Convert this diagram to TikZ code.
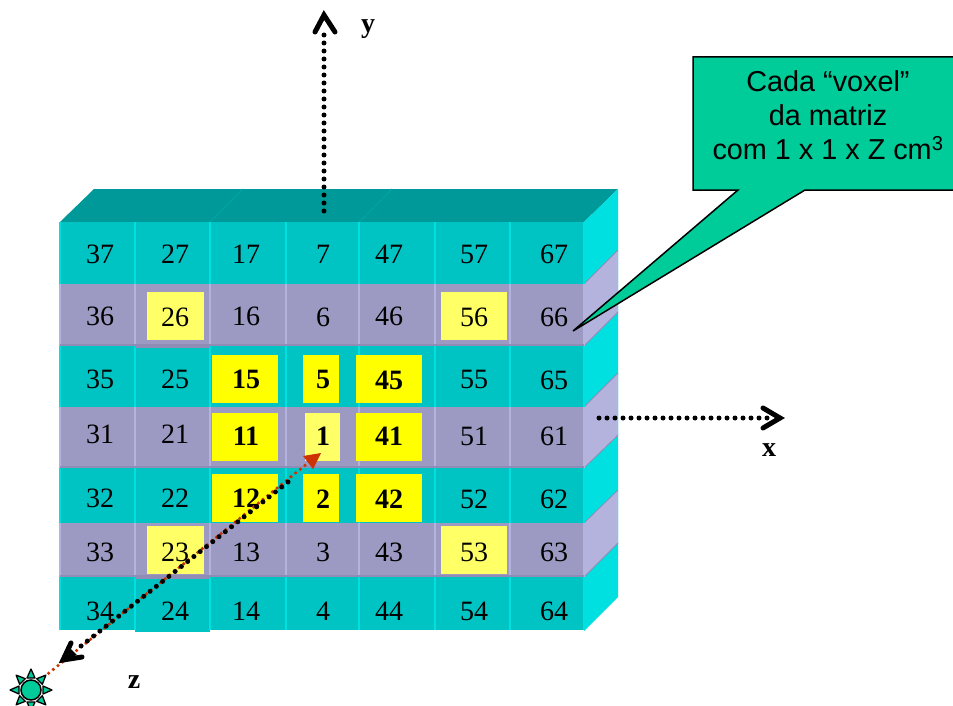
\documentclass[tikz,border=0pt]{standalone}
\usepackage{fontspec}
\setmainfont{Liberation Serif}
\newfontfamily\calloutfont{Liberation Sans}
\definecolor{tealface}{HTML}{00C4C4}
\definecolor{tealedge}{HTML}{00E0E0}
\definecolor{tealtop}{HTML}{009999}
\definecolor{tealseam}{HTML}{00A6A6}
\definecolor{lavface}{HTML}{9C99C2}
\definecolor{lavedge}{HTML}{B3B3DE}
\definecolor{lavshade}{HTML}{8F8CB5}
\definecolor{calloutgreen}{HTML}{00CC99}
\definecolor{brightyellow}{HTML}{FFFF00}
\definecolor{paleyellow}{HTML}{FFFF66}
\definecolor{zred}{HTML}{CC3300}
\tikzset{
  celltext/.style={font=\fontsize{28}{30}\selectfont,inner sep=0pt,text=black},
  boldtext/.style={font=\fontsize{28}{30}\selectfont\bfseries,inner sep=0pt,text=black},
  axislabel/.style={font=\fontsize{28}{30}\selectfont\bfseries,inner sep=0pt,text=black,anchor=base},
  calloutline/.style={font=\calloutfont\fontsize{28.8}{30}\selectfont,inner sep=0pt,anchor=base,text=black},
  axisdots/.style={line width=5pt,line cap=round,dash pattern=on 0pt off 8pt},
  reddots/.style={line width=3.6pt,line cap=round,dash pattern=on 0pt off 6pt,zred},
  vee/.style={line width=5pt,line cap=round,line join=miter,black},
}
\begin{document}
\begin{tikzpicture}[x=1pt,y=-1pt]
\useasboundingbox (0,0) rectangle (953,706);
% top face
\fill[tealtop] (60,222) -- (94,189) -- (618,189) -- (584,222) -- cycle;
\draw[tealseam,line width=.8pt] (210,222) -- (243,189);
\draw[tealseam,line width=.8pt] (359,222) -- (392,189);
% side bands
\fill[tealedge] (584,222) -- (618,189) -- (618,597) -- (584,631) -- cycle;
\foreach \la/\ra/\lb/\rb in {284/250/346/312,407/373/468/435,523/490/577/543}{
  \fill[lavedge] (584,\la) -- (618,\ra) -- (618,\rb) -- (584,\lb) -- cycle;
  \draw[lavshade,line width=.8pt] (584,\la) -- (618,\ra);
  \draw[lavshade,line width=.8pt] (584,\lb) -- (618,\rb);
}
% front rows
\foreach \ya/\yb/\c in {222/284/tealface,346/407/tealface,468/523/tealface,577/630/tealface,284/346/lavface,407/468/lavface,523/577/lavface}{
  \fill[\c] (60,\ya) rectangle (584,\yb);
}
\fill[tealface] (135,630) rectangle (210,632);
% lighter column seams
\foreach \x in {60,135,210,286,359,435,510,584}{
  \foreach \ya/\yb/\c in {222/284/tealedge,346/407/tealedge,468/523/tealedge,577/630/tealedge,284/346/lavedge,407/468/lavedge,523/577/lavedge}{
    \fill[\c] (\x-1,\ya) rectangle (\x+1,\yb);
  }
}
% darker row seams
\foreach \y in {344,466,575}{\fill[lavshade] (60,\y) rectangle (584,\y+2);}
\fill[lavshade] (135,346) rectangle (210,348);
\fill[lavshade] (135,577) rectangle (210,579);
% yellow patches
\foreach \xa/\ya/\xb/\yb/\c in {
  147/292/204/340/paleyellow, 441/292/507/340/paleyellow,
  212/355/278/403/brightyellow, 303/355/339/403/brightyellow, 356/355/422/403/brightyellow,
  212/413/278/461/brightyellow, 305/413/340/461/paleyellow, 356/413/422/461/brightyellow,
  212/474/278/522/brightyellow, 303/474/339/522/brightyellow, 356/474/422/522/brightyellow,
  147/526/204/574/paleyellow, 441/526/507/574/paleyellow}{
  \fill[\c] (\xa,\ya) rectangle (\xb,\yb);
}
% plain cell numbers
\foreach \t/\x/\y in {
  37/100/254,27/175/254,17/246/254,7/323/254,47/389/254,57/474/254,67/554/254,
  36/100/316,26/175/317,16/246/316,6/323/317,46/389/316,56/474/317,66/554/317,
  35/100/379,25/175/379,55/474/379,65/554/380,
  31/100/434,21/175/434,51/474/436,61/554/436,
  32/100/498,22/175/498,52/474/499,62/554/499,
  33/100/552,23/175/552,13/246/552,3/323/552,43/389/552,53/474/552,63/554/552,
  34/100/611,24/175/611,14/246/611,4/323/611,44/389/611,54/474/611,64/554/611}{
  \node[celltext] (n\t) at (\x,\y) {\t};
}
\foreach \t/\x/\y in {15/246/379,5/323/379,45/389/380,11/246/436,1/323/436,41/389/436,12/246/498,2/323/499,42/389/499}{
  \node[boldtext] (n\t) at (\x,\y) {\t};
}
% y axis
\coordinate (ybase) at (324,211);
\coordinate (ytip) at (324,15);
\draw[axisdots] (ybase) -- (324,30);
\draw[vee] (315,32) -- (ytip) -- (335,32);
\node[axislabel] (ylabel) at (368,33) {y};
% x axis
\coordinate (xbase) at (599,418);
\coordinate (xtip) at (780,418);
\draw[axisdots] (xbase) -- (770,418);
\draw[vee] (763,408) -- (xtip) -- (763,428);
\node[axislabel] (xlabel) at (769,456) {x};
% z axis
\coordinate (zin) at (288,482);
\coordinate (ztip) at (63,660);
\coordinate (sunc) at (31,690);
\coordinate (redtip) at (321,453);
\draw[reddots] (44,677) -- (308,463);
\draw[axisdots] (zin) -- (76,650);
\draw[vee] (71,643) -- (ztip) -- (82,657);
\fill[black] (ztip) -- (70,648) -- (77,655) -- cycle;
\fill[zred] (redtip) -- (303,456) -- (313,469) -- cycle;
\node[axislabel] (zlabel) at (134,688) {z};
% source
\foreach \a in {0,45,...,315}{
  \draw[fill=calloutgreen,draw=black,line width=1.3pt,line join=round,rotate around={\a:(sunc)}] (43,686) -- (52,690) -- (43,694) -- cycle;
}
\node[circle,draw=black,line width=1.5pt,fill=calloutgreen,minimum size=20pt,inner sep=0pt] (sun) at (sunc) {};
% callout
\draw[fill=calloutgreen,draw=black,line width=1.5pt,line join=miter]
  (693,57) -- (955,57) -- (955,190) -- (805,190) -- (573,331) -- (738,190) -- (693,190) -- cycle;
\node[calloutline] (cone) at (828,92) {Cada “voxel”};
\node[calloutline] (ctwo) at (828,126) {da matriz};
\node[calloutline] (cthree) at (828,160) {com 1 x 1 x Z cm\textsuperscript{3}};
\end{tikzpicture}
\end{document}
